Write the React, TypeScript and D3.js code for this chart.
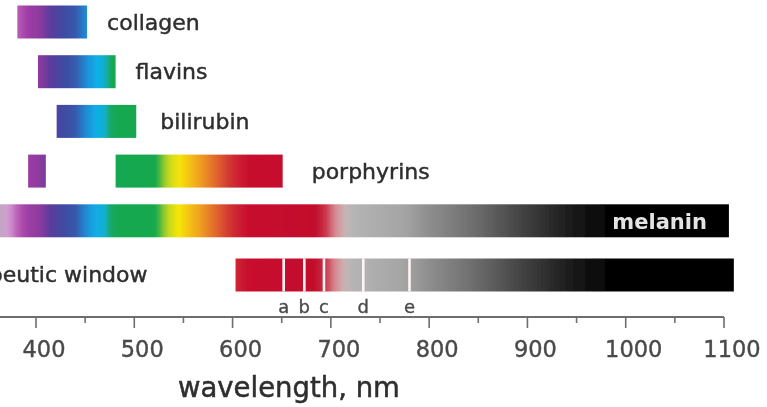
import React from 'react';
import * as d3 from 'd3';

// ---- data ----
const rows = ['collagen', 'flavins', 'bilirubin', 'porphyrins', 'melanin', 'therapeutic window'];
const collagenBands: [number, number][] = [[381, 452]];
const flavinsBands: [number, number][] = [[402, 481]];
const bilirubinBands: [number, number][] = [[421, 502]];
const porphyrinsBands: [number, number][] = [[392, 410], [481, 651]];
const melaninBands: [number, number][] = [[350, 1105]];
const windowBands: [number, number][] = [[603, 1110]];
const bandsByRow = [collagenBands, flavinsBands, bilirubinBands, porphyrinsBands, melaninBands, windowBands];

const windowMarkers = [652, 673, 693, 733, 780];
const markerLabels = ['a', 'b', 'c', 'd', 'e'];

const majorTicks = [400, 500, 600, 700, 800, 900, 1000, 1100];
const minorTicks = [350, 450, 550, 650, 750, 850, 950, 1050];

const spectrumStops = [355, 363, 372, 382, 392, 404, 414, 428, 440, 452, 462, 470, 477, 522, 533, 545, 556, 568, 582, 598, 614, 684, 694, 704, 714, 724, 775, 800, 850, 900, 950, 990];
const spectrumColors = ['#b4b4b4', '#c0a8c0', '#d49cd4', '#b858b4', '#9c3ca4', '#8e3a9e', '#5c3c9c', '#3f4aa2', '#3758ac', '#1e90d8', '#10b0ea', '#12aecc', '#12a852', '#14a84c', '#b8d424', '#f6e606', '#f4c214', '#ee9c22', '#e26a2c', '#cf3234', '#c8102e', '#c20e2c', '#c83046', '#d88890', '#c8b4b6', '#b4b4b4', '#a4a4a4', '#8e8e8e', '#6a6a6a', '#3e3e3e', '#161616', '#000000'];

// ---- layout / style ----
const W = 767;
const H = 407;
const FONT = '"DejaVu Sans", sans-serif';
const rowOffsets = [0, 0, 0, 0, 0, 4.5];
const labelGaps = [20, 20, 24, 29];
const BAR_H = 33;
const AXIS_Y = 317;
const STEP = 5;
const TEXT_DARK = '#2e2e2e';

export default function App() {
  const x = d3.scaleLinear().domain([400, 1100]).range([36, 724]);
  const y = d3.scalePoint<string>().domain(rows).range([22, 270.5]);
  const color = d3
    .scaleLinear<string>()
    .domain(spectrumStops)
    .range(spectrumColors)
    .interpolate(d3.interpolateRgb)
    .clamp(true);

  const cy = (i: number) => (y(rows[i]) as number) + rowOffsets[i];

  const gradients: JSX.Element[] = [];
  const bars: JSX.Element[] = [];
  bandsByRow.forEach((bands, i) => {
    bands.forEach(([a, b], j) => {
      const id = `g${i}-${j}`;
      const stops: JSX.Element[] = [];
      for (let s = a; s <= b + 0.001; s += STEP) {
        const v = Math.min(s, b);
        stops.push(<stop key={v} offset={(v - a) / (b - a)} stopColor={color(v)} />);
      }
      gradients.push(
        <linearGradient key={id} id={id} gradientUnits="userSpaceOnUse" x1={x(a)} x2={x(b)} y1={0} y2={0}>
          {stops}
        </linearGradient>
      );
      bars.push(
        <rect
          key={id}
          x={x(a)}
          y={cy(i) - BAR_H / 2}
          width={x(b) - x(a)}
          height={BAR_H}
          fill={`url(#${id})`}
        />
      );
    });
  });

  const winRow = rows.length - 1;
  const melRow = 4;
  const heavy = (c: string, w = 0.45) => ({ fill: c, stroke: c, strokeWidth: w });

  return (
    <svg width={W} height={H} style={{ position: 'absolute', left: 0, top: 0, background: '#fff' }}>
      <defs>
        {gradients}
        <filter id="soft" x="-5%" y="-5%" width="110%" height="110%">
          <feGaussianBlur stdDeviation="0.6" />
        </filter>
      </defs>
      <rect width={W} height={H} fill="#fff" />
      <g filter="url(#soft)">
        {bars}
        {windowMarkers.map((m, k) => (
          <line
            key={`m${k}`}
            x1={x(m)}
            x2={x(m)}
            y1={cy(winRow) - BAR_H / 2}
            y2={cy(winRow) + BAR_H / 2}
            stroke="#fff4f4"
            strokeWidth={2.6}
          />
        ))}
        {windowMarkers.map((m, k) => (
          <text
            key={`ml${k}`}
            x={x(m)}
            y={cy(winRow) + BAR_H / 2 + 21}
            textAnchor="middle"
            fontFamily={FONT}
            fontSize={18}
            {...heavy('#4a4a4a', 0.35)}
          >
            {markerLabels[k]}
          </text>
        ))}
        {rows.slice(0, 4).map((r, i) => {
          const bands = bandsByRow[i];
          const end = bands[bands.length - 1][1];
          return (
            <text
              key={r}
              x={x(end) + labelGaps[i]}
              y={cy(i) + 7.5}
              fontFamily={FONT}
              fontSize={22}
              {...heavy(TEXT_DARK)}
            >
              {r}
            </text>
          );
        })}
        <text
          x={x(melaninBands[0][1]) - 22}
          y={cy(melRow) + 8}
          textAnchor="end"
          fontFamily={FONT}
          fontSize={21}
          fontWeight="bold"
          fill="#e4e4e4"
        >
          {rows[melRow]}
        </text>
        <text
          x={x(windowBands[0][0]) - 88}
          y={cy(winRow) + 7}
          textAnchor="end"
          fontFamily={FONT}
          fontSize={22}
          {...heavy(TEXT_DARK)}
        >
          {rows[winRow]}
        </text>
        {/* axis */}
        <line x1={x(350)} x2={x(1100)} y1={AXIS_Y} y2={AXIS_Y} stroke="#6e6e6e" strokeWidth={2} />
        {majorTicks.map((t) => (
          <line key={`t${t}`} x1={x(t)} x2={x(t)} y1={AXIS_Y} y2={AXIS_Y + 11} stroke="#6e6e6e" strokeWidth={1.6} />
        ))}
        {minorTicks.map((t) => (
          <line key={`mt${t}`} x1={x(t)} x2={x(t)} y1={AXIS_Y} y2={AXIS_Y + 6} stroke="#6e6e6e" strokeWidth={1.6} />
        ))}
        {majorTicks.map((t) => (
          <text
            key={`tl${t}`}
            x={x(t) + 8}
            y={357}
            textAnchor="middle"
            fontFamily={FONT}
            fontSize={22.5}
            {...heavy('#4a4a4a', 0.4)}
          >
            {t}
          </text>
        ))}
        <text x={178} y={397} fontFamily={FONT} fontSize={27.5} {...heavy(TEXT_DARK, 0.5)}>
          wavelength, nm
        </text>
      </g>
    </svg>
  );
}
